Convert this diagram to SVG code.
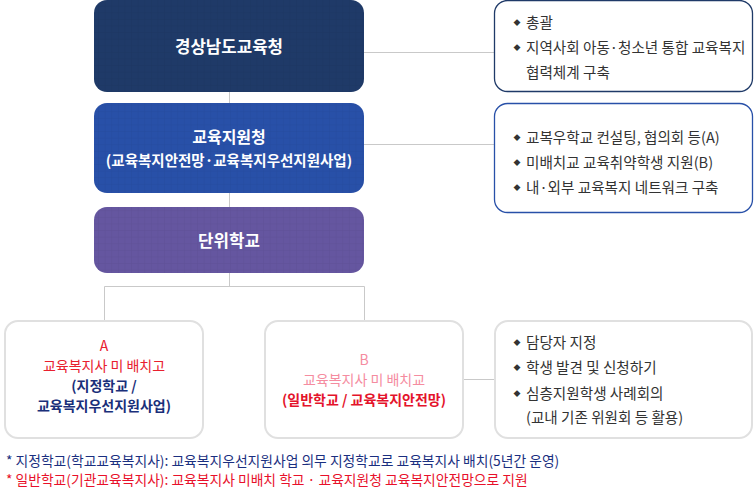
<svg xmlns="http://www.w3.org/2000/svg" width="754" height="498" viewBox="0 0 754 498">
<style>
text{font-family:"Noto Sans CJK KR","Noto Sans",sans-serif;}
.w{fill:#fff;font-weight:bold;text-anchor:middle;}
.li{fill:#333;font-size:14.6px;}
.bul{fill:#333;font-size:7px;text-anchor:middle;}
.conn{stroke:#c9c9c9;stroke-width:1;fill:none;}
.sub{fill:#fff;stroke:#e0e0e0;stroke-width:2;}
.c{text-anchor:middle;font-size:14px;}
</style>
<defs>
<pattern id="grid" width="6.6" height="6.6" patternUnits="userSpaceOnUse">
<path d="M6.6 0V6.6M0 6.6H6.6" stroke="#000" stroke-opacity="0.06" stroke-width="1"/>
</pattern>
</defs>
<g id="connectors">
<path class="conn" d="M229.5 92V103M229.5 193V207M229.5 273V286.5M104.5 286.5H364.5M104.5 286.5V320M364.5 286.5V320"/>
<path class="conn" d="M364 52.5H494M364 144.5H494M463 379.5H495"/>
</g>
<g id="node-gyeongnam">
<rect x="94" y="0" width="270" height="92" rx="13" fill="#1f3a68"/>
<rect x="94" y="0" width="270" height="92" rx="13" fill="url(#grid)"/>
<text class="w" x="229" y="53" font-size="16.8">경상남도교육청</text>
</g>
<g id="node-jiwon">
<rect x="94" y="103" width="270" height="90" rx="13" fill="#2850a8"/>
<rect x="94" y="103" width="270" height="90" rx="13" fill="url(#grid)"/>
<text class="w" x="229" y="143" font-size="16">교육지원청</text>
<text class="w" x="229" y="165.5" font-size="14.5">(교육복지안전망·교육복지우선지원사업)</text>
</g>
<g id="node-school">
<rect x="94" y="207" width="270" height="66" rx="13" fill="#6556a0"/>
<rect x="94" y="207" width="270" height="66" rx="13" fill="url(#grid)"/>
<text class="w" x="229" y="246.5" font-size="16.8">단위학교</text>
</g>
<g id="node-desc1">
<rect x="494.5" y="0.5" width="258" height="91" rx="13" fill="#fff" stroke="#1f3a68" stroke-width="1.3"/>
<text class="bul" x="517" y="25">◆</text><text class="li" x="526" y="27.5">총괄</text>
<text class="bul" x="517" y="50">◆</text><text class="li" x="526" y="52.5">지역사회 아동·청소년 통합 교육복지</text>
<text class="li" x="526" y="77.5">협력체계 구축</text>
</g>
<g id="node-desc2">
<rect x="494.5" y="103.5" width="258" height="109" rx="13" fill="#fff" stroke="#2850a8" stroke-width="1.3"/>
<text class="bul" x="517" y="140">◆</text><text class="li" x="526" y="142.5">교복우학교 컨설팅, 협의회 등(A)</text>
<text class="bul" x="517" y="165">◆</text><text class="li" x="526" y="167.5">미배치교 교육취약학생 지원(B)</text>
<text class="bul" x="517" y="190">◆</text><text class="li" x="526" y="192.5">내·외부 교육복지 네트워크 구축</text>
</g>
<g id="node-a">
<rect class="sub" x="5" y="321" width="198" height="117" rx="13"/>
<text class="c" x="104" y="351" fill="#e8202e">A</text>
<text class="c" x="104" y="371" fill="#e8202e">교육복지사 미 배치고</text>
<text class="c" x="104" y="391" font-weight="bold" fill="#1a2f7a">(지정학교 /</text>
<text class="c" x="104" y="411" font-weight="bold" fill="#1a2f7a">교육복지우선지원사업)</text>
</g>
<g id="node-b">
<rect class="sub" x="265" y="321" width="198" height="117" rx="13"/>
<text class="c" x="364" y="365" fill="#f58ca0">B</text>
<text class="c" x="364" y="385" fill="#f58ca0">교육복지사 미 배치교</text>
<text class="c" x="364" y="405" font-weight="bold" fill="#e4132b">(일반학교 / 교육복지안전망)</text>
</g>
<g id="node-desc3">
<rect class="sub" x="495" y="321" width="257" height="117" rx="13"/>
<text class="bul" x="517" y="345">◆</text><text class="li" x="526" y="347.5">담당자 지정</text>
<text class="bul" x="517" y="370">◆</text><text class="li" x="526" y="372.5">학생 발견 및 신청하기</text>
<text class="bul" x="517" y="396">◆</text><text class="li" x="526" y="398.5">심층지원학생 사례회의</text>
<text class="li" x="526" y="422.5">(교내 기존 위원회 등 활용)</text>
</g>
<g id="footnotes">
<text x="6" y="466" font-size="13.8" fill="#1a2f80">* 지정학교(학교교육복지사): 교육복지우선지원사업 의무 지정학교로 교육복지사 배치(5년간 운영)</text>
<text x="6" y="485" font-size="13.8" fill="#e8102a">* 일반학교(기관교육복지사): 교육복지사 미배치 학교 · 교육지원청 교육복지안전망으로 지원</text>
</g>
</svg>
